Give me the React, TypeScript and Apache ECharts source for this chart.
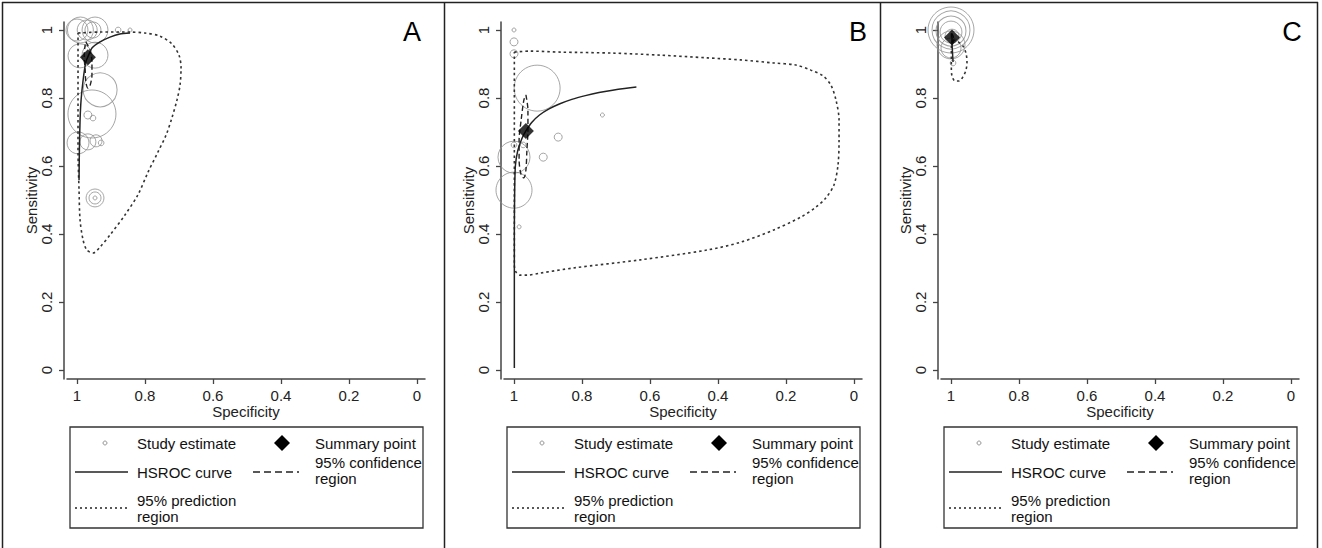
import React, { useEffect, useRef } from "react";
import * as echarts from "echarts";

// ---------- DATA ----------
// study estimates: [specificity, sensitivity, weight]
const studiesA: [number, number, number][] = [
  [0.99, 1.0, 42], [0.947, 1.0, 42], [0.953, 1.0, 16], [0.879, 1.0, 2], [0.844, 1.0, 1],
  [1.0, 1.0, 30], [0.97, 1.0, 25], [0.991, 0.924, 36], [0.947, 0.926, 42], [0.932, 0.824, 72],
  [0.956, 0.753, 144], [0.968, 0.75, 4], [0.953, 0.741, 2], [0.997, 0.668, 30], [0.968, 0.671, 16],
  [0.944, 0.674, 9], [0.929, 0.668, 2], [0.947, 0.506, 20], [0.947, 0.506, 9], [0.947, 0.506, 1],
];
const studiesB: [number, number, number][] = [
  [1.0, 1.0, 1], [1.0, 0.965, 4], [1.0, 0.93, 4], [0.932, 0.829, 132], [0.87, 0.685, 4],
  [0.914, 0.626, 4], [1.0, 0.626, 64], [1.0, 0.529, 81], [0.985, 0.421, 1], [0.74, 0.75, 1],
  [1.0, 0.662, 2], [0.973, 0.662, 2],
];
const studiesC: [number, number, number][] = [
  [1.0, 1.0, 132], [1.0, 1.0, 90], [1.0, 0.997, 56], [1.0, 0.994, 30], [0.997, 0.982, 12],
  [1.0, 0.956, 49], [1.0, 0.947, 25], [0.994, 0.903, 2],
];

// summary points [specificity, sensitivity]
const summaryA: [number, number] = [0.968, 0.92];
const summaryB: [number, number] = [0.965, 0.703];
const summaryC: [number, number] = [0.997, 0.978];

// HSROC curves
const hsrocA: [number, number][] = [
  [0.994, 0.559], [0.993, 0.647], [0.991, 0.735], [0.988, 0.794], [0.982, 0.853], [0.974, 0.906],
  [0.968, 0.921], [0.956, 0.947], [0.932, 0.965], [0.903, 0.979], [0.874, 0.988], [0.844, 0.991],
];
const hsrocB: [number, number][] = [
  [0.999, 0.006], [0.999, 0.206], [0.999, 0.412], [0.998, 0.529], [0.996, 0.6], [0.989, 0.645],
  [0.977, 0.68], [0.965, 0.703], [0.948, 0.728], [0.925, 0.75], [0.897, 0.768], [0.865, 0.783],
  [0.83, 0.796], [0.79, 0.807], [0.75, 0.816], [0.71, 0.823], [0.675, 0.828], [0.64, 0.832],
];
const hsrocC: [number, number][] = [
  [0.994, 0.906], [0.996, 0.941], [0.997, 0.965], [0.997, 0.978], [0.998, 0.99],
];

// 95% confidence regions
const confA: [number, number][] = [
  [0.974, 0.965], [0.962, 0.941], [0.956, 0.906], [0.956, 0.868], [0.962, 0.835], [0.968, 0.829],
  [0.974, 0.847], [0.976, 0.882], [0.979, 0.926], [0.976, 0.956], [0.974, 0.965],
];
const confB: [number, number][] = [
  [0.965, 0.809], [0.959, 0.765], [0.959, 0.706], [0.962, 0.647], [0.965, 0.588], [0.971, 0.565],
  [0.979, 0.574], [0.985, 0.618], [0.985, 0.676], [0.979, 0.735], [0.971, 0.794], [0.965, 0.809],
];
const confC: [number, number][] = [
  [0.999, 0.99], [0.995, 0.985], [0.992, 0.972], [0.995, 0.962], [0.998, 0.97], [0.999, 0.985], [0.999, 0.99],
];

// 95% prediction regions
const predA: [number, number][] = [
  [0.997, 0.991], [0.932, 0.994], [0.844, 0.994], [0.8, 0.991], [0.756, 0.982], [0.721, 0.959],
  [0.7, 0.926], [0.694, 0.888], [0.697, 0.838], [0.706, 0.794], [0.721, 0.741], [0.738, 0.691],
  [0.762, 0.641], [0.791, 0.582], [0.821, 0.515], [0.859, 0.456], [0.903, 0.397], [0.932, 0.362],
  [0.953, 0.344], [0.971, 0.353], [0.982, 0.382], [0.991, 0.441], [0.994, 0.529], [0.997, 0.647],
  [0.997, 0.794], [0.997, 0.912], [0.997, 0.991],
];
const predB: [number, number][] = [
  [0.999, 0.935], [0.953, 0.938], [0.864, 0.935], [0.708, 0.932], [0.569, 0.926], [0.431, 0.918],
  [0.333, 0.912], [0.236, 0.903], [0.171, 0.897], [0.127, 0.882], [0.091, 0.865], [0.068, 0.838],
  [0.053, 0.794], [0.044, 0.735], [0.044, 0.676], [0.047, 0.603], [0.059, 0.544], [0.083, 0.506],
  [0.112, 0.479], [0.156, 0.45], [0.236, 0.412], [0.333, 0.376], [0.431, 0.353], [0.628, 0.324],
  [0.826, 0.3], [0.923, 0.285], [0.962, 0.279], [0.982, 0.279], [0.994, 0.288], [0.999, 0.309],
  [0.999, 0.5], [0.999, 0.735], [0.999, 0.935],
];
const predC: [number, number][] = [
  [0.994, 0.971], [0.979, 0.965], [0.965, 0.953], [0.956, 0.932], [0.953, 0.906], [0.956, 0.882],
  [0.965, 0.862], [0.976, 0.85], [0.988, 0.85], [0.997, 0.865], [0.999, 0.888], [0.999, 0.918],
  [0.999, 0.947], [0.994, 0.971],
];

const tickValues = [0, 0.2, 0.4, 0.6, 0.8, 1];
const panelLetters = ["A", "B", "C"];
const legendLabels = ["Study estimate", "Summary point", "HSROC curve", "95% confidence", "region", "95% prediction", "region"];

// ---------- LAYOUT ----------
const FONT = "'Liberation Sans', Arial, sans-serif";
const PANEL_X1 = [77, 514, 951]; // pixel of specificity = 1
const LETTER_X = [412, 858, 1292];

const panels = [
  { studies: studiesA, summary: summaryA, hsroc: hsrocA, conf: confA, pred: predA },
  { studies: studiesB, summary: summaryB, hsroc: hsrocB, conf: confB, pred: predB },
  { studies: studiesC, summary: summaryC, hsroc: hsrocC, conf: confC, pred: predC },
];

function legendElements(x1: number): any[] {
  const txt = (text: string, x: number, y: number) => ({
    type: "text",
    x,
    y,
    style: { text, font: `15px ${FONT}`, fill: "#111", verticalAlign: "middle", align: "left" },
  });
  const ln = (xa: number, xb: number, y: number, dash: number[] | null) => ({
    type: "line",
    shape: { x1: xa, y1: y, x2: xb, y2: y },
    style: { stroke: "#222", lineWidth: 1.4, lineDash: dash || undefined },
  });
  const tx = x1 + 60;
  const tx2 = x1 + 238;
  return [
    {
      type: "rect",
      shape: { x: x1 - 7, y: 427, width: 353, height: 101 },
      style: { fill: "#fff", stroke: "#333", lineWidth: 1.3 },
    },
    { type: "circle", shape: { cx: x1 + 28, cy: 443, r: 2 }, style: { fill: "none", stroke: "#999", lineWidth: 1 } },
    txt(legendLabels[0], tx, 443),
    {
      type: "polygon",
      shape: { points: [[x1 + 205, 435], [x1 + 213, 443], [x1 + 205, 451], [x1 + 197, 443]] },
      style: { fill: "#000" },
    },
    txt(legendLabels[1], tx2, 443),
    ln(x1 - 2, x1 + 51, 472, null),
    txt(legendLabels[2], tx, 472),
    ln(x1 + 176, x1 + 222, 472, [7, 4]),
    txt(legendLabels[3], tx2, 462),
    txt(legendLabels[4], tx2, 478),
    ln(x1 - 2, x1 + 51, 508, [2, 3]),
    txt(legendLabels[5], tx, 500),
    txt(legendLabels[6], tx, 516),
  ];
}

function buildOption(): any {
  const grid: any[] = [];
  const xAxis: any[] = [];
  const yAxis: any[] = [];
  const series: any[] = [];
  const graphic: any[] = [];
  const axisColor = "#444";
  const labelStyle = { fontSize: 15, color: "#222", fontFamily: FONT };

  panels.forEach((p, i) => {
    const x1 = PANEL_X1[i];
    grid.push({ left: x1 - 10, top: 22, width: 358, height: 357 });
    xAxis.push({
      type: "value",
      gridIndex: i,
      inverse: true,
      min: -8 / 340,
      max: 1 + 10 / 340,
      position: "bottom",
      axisLine: { show: true, onZero: false, lineStyle: { color: axisColor, width: 1.5 } },
      axisTick: { show: true, length: 5, customValues: tickValues, lineStyle: { color: axisColor, width: 1.3 } },
      axisLabel: { ...labelStyle, customValues: tickValues, margin: 9, formatter: (v: number) => String(+v.toFixed(1)) },
      splitLine: { show: false },
      name: "Specificity",
      nameLocation: "middle",
      nameGap: 25,
      nameMoveOverlap: false,
      nameTextStyle: labelStyle,
    });
    yAxis.push({
      type: "value",
      gridIndex: i,
      min: -9 / 340,
      max: 1 + 8 / 340,
      offset: 3,
      axisLine: { show: true, onZero: false, lineStyle: { color: axisColor, width: 1.5 } },
      axisTick: { show: true, length: 5, customValues: tickValues, lineStyle: { color: axisColor, width: 1.3 } },
      axisLabel: { ...labelStyle, customValues: tickValues, margin: 10, rotate: 90, formatter: (v: number) => String(+v.toFixed(1)) },
      splitLine: { show: false },
      name: "Sensitivity",
      nameLocation: "middle",
      nameGap: 25,
      nameRotate: 90,
      nameMoveOverlap: false,
      nameTextStyle: labelStyle,
    });
    const ax = { xAxisIndex: i, yAxisIndex: i };
    series.push({
      type: "scatter",
      ...ax,
      data: p.studies.map((s) => [s[0], s[1], s[2]]),
      symbol: "circle",
      symbolSize: (v: number[]) => 4 * Math.sqrt(v[2]),
      itemStyle: { color: "rgba(0,0,0,0)", borderColor: "#8f8f8f", borderWidth: 1 },
      z: 2,
    });
    series.push({
      type: "line",
      ...ax,
      data: p.pred,
      showSymbol: false,
      smooth: 0.3,
      lineStyle: { color: "#333", width: 1.6, type: [2.5, 3] },
      z: 3,
    });
    series.push({
      type: "line",
      ...ax,
      data: p.conf,
      showSymbol: false,
      smooth: 0.3,
      lineStyle: { color: "#222", width: 1.4, type: [5, 3] },
      z: 4,
    });
    series.push({
      type: "line",
      ...ax,
      data: p.hsroc,
      showSymbol: false,
      smooth: 0.2,
      lineStyle: { color: "#222", width: 1.5 },
      z: 5,
    });
    series.push({
      type: "scatter",
      ...ax,
      data: [p.summary],
      symbol: "diamond",
      symbolSize: 16,
      itemStyle: { color: "#000" },
      z: 6,
    });
    graphic.push(...legendElements(x1));
    graphic.push({
      type: "text",
      x: LETTER_X[i],
      y: 32,
      style: { text: panelLetters[i], font: `27px ${FONT}`, fill: "#000", align: "center", verticalAlign: "middle" },
    });
  });

  // panel frames
  const frame = (x1: number, y1: number, x2: number, y2: number) => ({
    type: "line",
    shape: { x1, y1, x2, y2 },
    style: { stroke: "#222", lineWidth: 1.5 },
  });
  graphic.push(frame(2, 2.5, 1318, 2.5));
  graphic.push(frame(2.5, 2, 2.5, 548));
  graphic.push(frame(444.5, 2, 444.5, 548));
  graphic.push(frame(880.5, 2, 880.5, 548));
  graphic.push(frame(1317.5, 2, 1317.5, 548));

  return {
    animation: false,
    backgroundColor: "#fff",
    textStyle: { fontFamily: FONT },
    grid,
    xAxis,
    yAxis,
    series,
    graphic: { elements: graphic },
  };
}

export default function App() {
  const ref = useRef<HTMLDivElement>(null);
  useEffect(() => {
    if (!ref.current) return;
    const chart = echarts.init(ref.current, undefined, { renderer: "svg" });
    chart.setOption(buildOption());
    return () => chart.dispose();
  }, []);
  return (
    <div
      ref={ref}
      style={{ position: "fixed", left: 0, top: 0, width: 1322, height: 548, background: "#fff" }}
    />
  );
}
